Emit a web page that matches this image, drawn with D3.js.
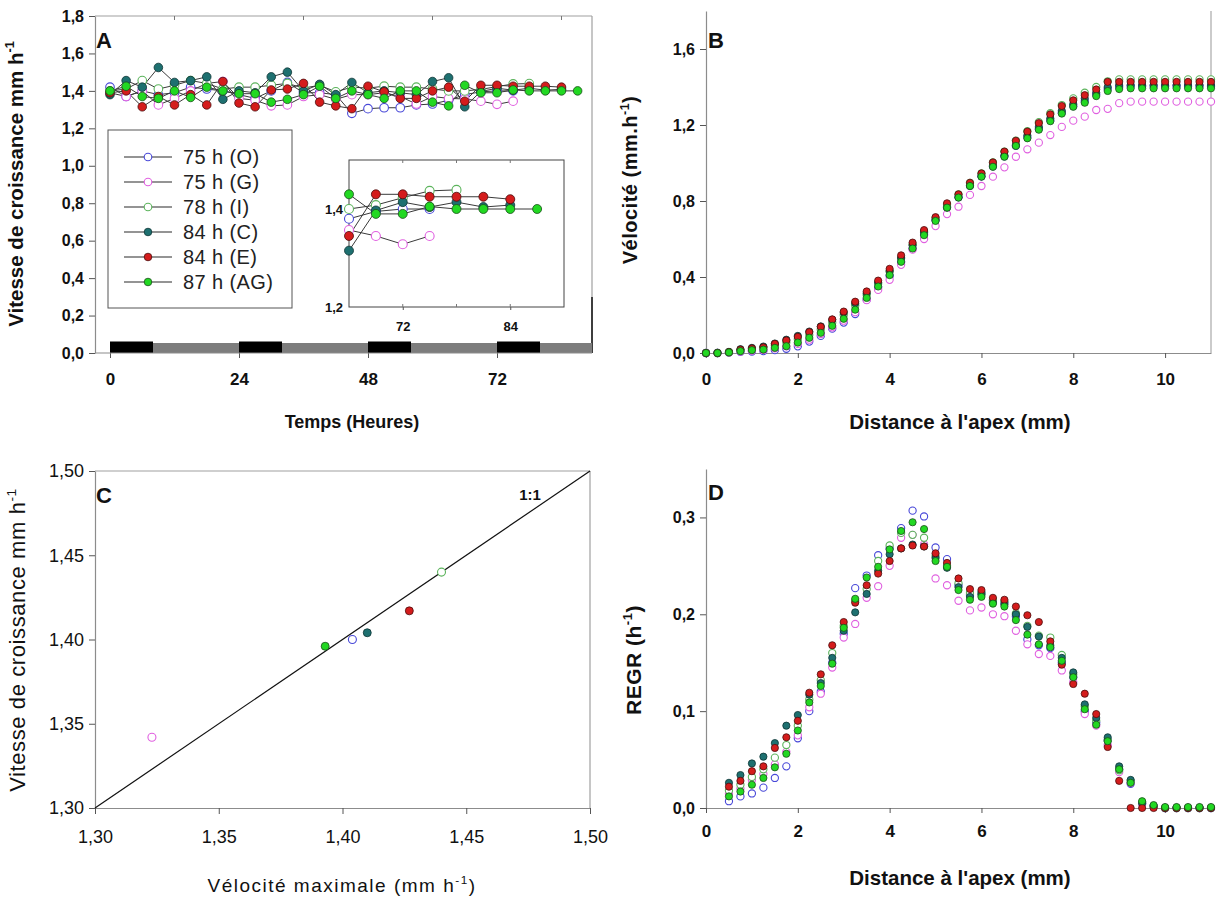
<!DOCTYPE html>
<html><head><meta charset="utf-8">
<script src="https://cdnjs.cloudflare.com/ajax/libs/d3/7.8.5/d3.min.js"></script>
<style>body{margin:0;background:#fff} svg{display:block}</style>
</head><body><svg id="c" width="1217" height="898"></svg>
<script>
// ---------------- DATA ----------------
const seriesNames = ["75 h (O)","75 h (G)","78 h (I)","84 h (C)","84 h (E)","87 h (AG)"];

// Panel A : growth rate (mm h-1) every 3 h
const hoursA = [0,3,6,9,12,15,18,21,24,27,30,33,36,39,42,45,48,51,54,57,60,63,66,69,72,75,78,81,84,87];
const growthO  = [1.42,1.37,1.40,1.38,1.39,1.42,1.41,1.40,1.38,1.36,1.40,1.445,1.39,1.39,1.38,1.28,1.305,1.31,1.31,1.325,1.33,1.35,1.38,1.395,1.40,1.40];
const growthG  = [1.39,1.37,1.40,1.325,1.36,1.40,1.44,1.45,1.36,1.35,1.32,1.325,1.37,1.38,1.355,1.38,1.38,1.39,1.37,1.33,1.37,1.36,1.357,1.345,1.328,1.345];
const growthI  = [1.40,1.41,1.455,1.41,1.43,1.455,1.44,1.41,1.42,1.42,1.43,1.44,1.415,1.43,1.395,1.42,1.415,1.425,1.42,1.42,1.41,1.40,1.40,1.408,1.423,1.437,1.439];
const growthC  = [1.38,1.455,1.42,1.525,1.445,1.455,1.475,1.355,1.40,1.39,1.475,1.50,1.40,1.435,1.38,1.445,1.39,1.40,1.39,1.38,1.45,1.47,1.315,1.397,1.414,1.404,1.414,1.404,1.408];
const growthE  = [1.39,1.40,1.315,1.37,1.325,1.38,1.325,1.45,1.335,1.315,1.405,1.41,1.44,1.34,1.32,1.305,1.425,1.395,1.36,1.36,1.40,1.42,1.345,1.43,1.43,1.425,1.425,1.425,1.42];
const growthAG = [1.40,1.425,1.37,1.36,1.40,1.365,1.42,1.40,1.385,1.385,1.34,1.355,1.38,1.425,1.36,1.40,1.38,1.36,1.40,1.40,1.34,1.32,1.43,1.39,1.39,1.405,1.40,1.40,1.40,1.40];
const nightStarts = [0,24,48,72];
const nightLength = 8;
const ticksAx = [0,24,48,72];
const ticksAxTop = [12,36,60,84];
const ticksAy = [0,0.2,0.4,0.6,0.8,1.0,1.2,1.4,1.6,1.8];
const insetTicksX = [72,84];
const insetMinorX = [78];
const insetTicksY = [1.2,1.4];

// Panel B : velocity (mm h-1) vs distance
const distB = [0,0.25,0.5,0.75,1,1.25,1.5,1.75,2,2.25,2.5,2.75,3,3.25,3.5,3.75,4,4.25,4.5,4.75,5,5.25,5.5,5.75,6,6.25,6.5,6.75,7,7.25,7.5,7.75,8,8.25,8.5,8.75,9,9.25,9.5,9.75,10,10.25,10.5,10.75,11];
const velO  = [0,0,0.002,0.006,0.008,0.01,0.015,0.022,0.035,0.06,0.09,0.128,0.16,0.205,0.28,0.345,0.405,0.478,0.55,0.625,0.7,0.77,0.82,0.88,0.93,0.982,1.035,1.09,1.135,1.18,1.225,1.265,1.30,1.325,1.36,1.39,1.40,1.404,1.404,1.404,1.404,1.404,1.404,1.404,1.404];
const velG  = [0,0,0.002,0.008,0.012,0.016,0.024,0.035,0.048,0.07,0.1,0.135,0.17,0.215,0.278,0.332,0.385,0.464,0.544,0.60,0.668,0.731,0.77,0.832,0.879,0.928,0.977,1.033,1.072,1.107,1.147,1.19,1.223,1.244,1.279,1.285,1.315,1.323,1.323,1.323,1.323,1.323,1.323,1.323,1.323];
const velI  = [0,0,0.004,0.012,0.02,0.028,0.04,0.055,0.072,0.095,0.124,0.16,0.2,0.25,0.305,0.365,0.428,0.5,0.57,0.64,0.71,0.78,0.835,0.895,0.945,1.003,1.06,1.118,1.168,1.215,1.262,1.305,1.34,1.37,1.40,1.43,1.44,1.44,1.44,1.44,1.44,1.44,1.44,1.44,1.44];
const velC  = [0,0,0.006,0.02,0.027,0.034,0.05,0.07,0.09,0.113,0.14,0.175,0.213,0.262,0.315,0.372,0.432,0.5,0.568,0.635,0.7,0.765,0.82,0.88,0.93,0.985,1.04,1.095,1.145,1.19,1.235,1.275,1.31,1.34,1.37,1.40,1.41,1.41,1.41,1.41,1.41,1.41,1.41,1.41,1.41];
const velE  = [0,0,0.005,0.018,0.024,0.03,0.048,0.066,0.085,0.11,0.138,0.177,0.218,0.27,0.324,0.381,0.443,0.514,0.581,0.647,0.715,0.788,0.835,0.896,0.945,1.003,1.06,1.117,1.165,1.21,1.256,1.30,1.33,1.357,1.387,1.427,1.427,1.427,1.427,1.427,1.427,1.427,1.427,1.427,1.427];
const velAG = [0,0,0.003,0.01,0.015,0.018,0.027,0.036,0.055,0.08,0.106,0.143,0.18,0.228,0.29,0.35,0.41,0.48,0.55,0.62,0.695,0.765,0.818,0.879,0.928,0.98,1.033,1.09,1.13,1.175,1.22,1.26,1.296,1.317,1.352,1.379,1.389,1.393,1.393,1.393,1.393,1.393,1.393,1.393,1.393];
const ticksBx = [0,2,4,6,8,10];
const ticksBy = [0,0.4,0.8,1.2,1.6];

// Panel C : max velocity vs mean growth rate
const velMax     = [1.404,1.323,1.440,1.410,1.427,1.393];
const growthMean = [1.400,1.342,1.440,1.404,1.417,1.396];
const ticksC = [1.30,1.35,1.40,1.45,1.50];

// Panel D : REGR (h-1) vs distance
const distD = [0.5,0.75,1,1.25,1.5,1.75,2,2.25,2.5,2.75,3,3.25,3.5,3.75,4,4.25,4.5,4.75,5,5.25,5.5,5.75,6,6.25,6.5,6.75,7,7.25,7.5,7.75,8,8.25,8.5,8.75,9,9.25,9.5,9.75,10,10.25,10.5,10.75,11];
const regrO  = [0.007,0.012,0.015,0.021,0.031,0.043,0.072,0.100,0.120,0.150,0.180,0.227,0.240,0.261,0.268,0.289,0.307,0.301,0.269,0.257,0.230,0.220,0.222,0.214,0.212,0.198,0.174,0.168,0.165,0.150,0.135,0.100,0.088,0.070,0.040,0.025,0.005,0.002,0,0,0,0,0];
const regrG  = [0.015,0.020,0.029,0.035,0.045,0.058,0.075,0.104,0.118,0.145,0.176,0.190,0.217,0.229,0.250,0.279,0.282,0.272,0.237,0.230,0.214,0.204,0.207,0.200,0.198,0.183,0.169,0.159,0.157,0.142,0.130,0.097,0.085,0.065,0.037,0.026,0.004,0.002,0,0,0,0,0];
const regrI  = [0.018,0.024,0.032,0.040,0.052,0.065,0.085,0.112,0.132,0.160,0.188,0.214,0.226,0.255,0.271,0.284,0.282,0.279,0.260,0.250,0.232,0.222,0.222,0.215,0.213,0.201,0.188,0.178,0.176,0.158,0.138,0.105,0.090,0.070,0.039,0.028,0.006,0.002,0,0,0,0,0];
const regrC  = [0.026,0.034,0.046,0.053,0.067,0.085,0.096,0.117,0.129,0.155,0.183,0.202,0.221,0.245,0.262,0.268,0.272,0.270,0.258,0.248,0.228,0.218,0.220,0.212,0.210,0.200,0.187,0.177,0.168,0.155,0.140,0.107,0.093,0.073,0.043,0.029,0.005,0.002,0,0,0,0,0];
const regrE  = [0.022,0.028,0.038,0.043,0.062,0.073,0.090,0.119,0.138,0.168,0.192,0.212,0.230,0.242,0.255,0.268,0.271,0.270,0.263,0.253,0.237,0.226,0.225,0.217,0.215,0.208,0.199,0.192,0.172,0.148,0.128,0.118,0.097,0.063,0.028,0,0,0,0,0,0,0,0];
const regrAG = [0.012,0.017,0.024,0.031,0.042,0.056,0.080,0.109,0.126,0.149,0.186,0.216,0.238,0.249,0.267,0.286,0.295,0.288,0.255,0.249,0.225,0.215,0.218,0.211,0.208,0.194,0.179,0.169,0.166,0.152,0.135,0.102,0.086,0.069,0.040,0.026,0.007,0.003,0.001,0.001,0.001,0.001,0.001];
const ticksDx = [0,2,4,6,8,10];
const ticksDy = [0,0.1,0.2,0.3];

// ---------------- STYLE ----------------
const FONT = "'Liberation Sans', Arial, sans-serif";
const markerStyles = [
  {stroke:"#4848d8", fill:"#ffffff", sw:1.1},
  {stroke:"#e060e0", fill:"#ffffff", sw:1.1},
  {stroke:"#5cb45c", fill:"#ffffff", sw:1.1},
  {stroke:"#0c3434", fill:"#1e7070", sw:0.8},
  {stroke:"#4a0c0c", fill:"#d41c1c", sw:0.8},
  {stroke:"#1c4c1c", fill:"#22d822", sw:0.8}
];
const growthA = [growthO,growthG,growthI,growthC,growthE,growthAG];
const velB = [velO,velG,velI,velC,velE,velAG];
const regrD = [regrO,regrG,regrI,regrC,regrE,regrAG];

const svg = d3.select("#c").style("font-family", FONT);
const comma = (d, p) => d3.format("." + p + "f")(d).replace(".", ",");

function styleAxis(g, size, weight) {
  g.attr("font-family", FONT);
  g.select(".domain").attr("stroke", "#8c8c8c").attr("stroke-width", 1.2);
  g.selectAll(".tick line").attr("stroke", "#555").attr("stroke-width", 1);
  g.selectAll(".tick text").attr("font-size", size).attr("font-weight", weight).attr("fill", "#111");
}
function line(x1,y1,x2,y2,c,w){ svg.append("line").attr("x1",x1).attr("y1",y1).attr("x2",x2).attr("y2",y2).attr("stroke",c).attr("stroke-width",w||1); }
function label(x,y,parts,size,weight,rot,anchor,ls){
  const t = svg.append("text").attr("font-size",size).attr("font-weight",weight||"bold").attr("fill","#111")
    .attr("text-anchor",anchor||"middle");
  if (ls) t.attr("letter-spacing", ls);
  if (rot) t.attr("transform",`translate(${x},${y}) rotate(-90)`); else t.attr("x",x).attr("y",y);
  let prevSup = false;
  parts.forEach(p => {
    if (typeof p === "string") {
      const s = t.append("tspan").text(p);
      if (prevSup) s.attr("dy", size*0.42);
      prevSup = false;
    } else {
      t.append("tspan").attr("font-size", size*0.62).attr("dy", -size*0.42).text(p.sup);
      prevSup = true;
    }
  });
  return t;
}
function dot(g, cx, cy, r, st){
  g.append("circle").attr("cx",cx).attr("cy",cy).attr("r",r).attr("fill",st.fill).attr("stroke",st.stroke).attr("stroke-width",st.sw);
}

// ================= PANEL A =================
const A = {l:95, r:592, t:16, b:353};
const xA = d3.scaleLinear().domain([0,72]).range([110,497]);
const yA = d3.scaleLinear().domain([0,1.8]).range([A.b, A.t]);

line(A.l, A.t, A.r, A.t, "#a0a0a0", 1.2);
line(A.r, A.t, A.r, A.b, "#a0a0a0", 1.2);
line(A.r, 297, A.r, A.b, "#111", 1.5);
ticksAxTop.forEach(h => line(xA(h), A.t, xA(h), A.t+4, "#777", 1));

// day/night bar
const gBar = svg.append("g");
nightStarts.forEach(s => {
  const x0 = xA(s), x1 = xA(s+nightLength), x2 = Math.min(xA(s+24), A.r);
  gBar.append("rect").attr("x",x1).attr("y",A.b-10).attr("width",x2-x1).attr("height",10).attr("fill","#7d7d7d");
  gBar.append("rect").attr("x",x0).attr("y",A.b-11.5).attr("width",x1-x0).attr("height",11.5).attr("fill","#000");
});

const gAy = svg.append("g").attr("transform",`translate(${A.l},0)`)
  .call(d3.axisLeft(yA).tickValues(ticksAy).tickSize(6).tickSizeOuter(0).tickPadding(5).tickFormat(d=>comma(d,1)));
styleAxis(gAy, 16, "bold");
const gAx = svg.append("g").attr("transform",`translate(0,${A.b})`)
  .call(d3.axisBottom(xA).tickValues(ticksAx).tickSize(5).tickSizeOuter(0).tickPadding(15).tickFormat(d3.format("d")));
styleAxis(gAx, 17, "bold");
gAx.select(".domain").remove();
line(A.l, A.b, A.r, A.b, "#8c8c8c", 1.2);

const lineA = d3.line().x((d,i)=>xA(hoursA[i])).y(d=>yA(d));
const gA = svg.append("g");
growthA.forEach((s,k) => {
  gA.append("path").attr("d", lineA(s)).attr("fill","none").attr("stroke","#3a3a3a").attr("stroke-width",1);
});
growthA.forEach((s,k) => {
  s.forEach((v,i) => dot(gA, xA(hoursA[i]), yA(v), 4.3, markerStyles[k]));
});

// legend
svg.append("rect").attr("x",108).attr("y",130).attr("width",184).attr("height",178).attr("fill","#fff").attr("stroke","#555").attr("stroke-width",1);
seriesNames.forEach((n,k) => {
  const y = 157 + k*25;
  line(124, y, 172, y, "#707070", 1.3);
  dot(svg, 148, y, 3.8, markerStyles[k]);
  svg.append("text").attr("x",183).attr("y",y+7).attr("font-size",20).attr("letter-spacing",0.4).attr("fill","#222").text(n);
});

// inset
const I = {l:349, r:564, t:160, b:307};
const xI = d3.scaleLinear().domain([66,90]).range([I.l, I.r]);
const yI = d3.scaleLinear().domain([1.2,1.5]).range([I.b, I.t]);
svg.append("rect").attr("x",I.l).attr("y",I.t).attr("width",I.r-I.l).attr("height",I.b-I.t).attr("fill","#fff").attr("stroke","#444").attr("stroke-width",1);
const gIy = svg.append("g").attr("transform",`translate(${I.l},0)`)
  .call(d3.axisLeft(yI).tickValues(insetTicksY).tickSize(0).tickPadding(6).tickFormat(d=>comma(d,1)));
styleAxis(gIy, 13, "bold"); gIy.select(".domain").remove();
const gIx = svg.append("g").attr("transform",`translate(0,${I.b})`)
  .call(d3.axisBottom(xI).tickValues(insetTicksX).tickSize(3).tickPadding(12).tickFormat(d3.format("d")));
styleAxis(gIx, 13, "bold"); gIx.select(".domain").remove();
insetMinorX.concat(insetTicksX).forEach(h => { line(xI(h), I.t, xI(h), I.t+3, "#777", 1); line(xI(h), I.b, xI(h), I.b-3, "#777", 1); });
const gI = svg.append("g");
growthA.forEach((s,k) => {
  const pts = s.map((v,i)=>[hoursA[i],v]).filter(p=>p[0]>=66);
  gI.append("path").attr("d", d3.line().x(p=>xI(p[0])).y(p=>yI(p[1]))(pts)).attr("fill","none").attr("stroke","#3a3a3a").attr("stroke-width",1);
});
growthA.forEach((s,k) => {
  s.forEach((v,i) => { if (hoursA[i] >= 66) dot(gI, xI(hoursA[i]), yI(v), 4.5, markerStyles[k]); });
});

label(104, 48, ["A"], 22, "bold");
label(352, 428, ["Temps (Heures)"], 18, "bold");
label(23, 184, ["Vitesse de croissance mm h", {sup:"-1"}], 20.5, "bold", true);

// ================= PANEL B =================
const B = {l:706, r:1211, t:11, b:353};
const xB = d3.scaleLinear().domain([0,11]).range([B.l, B.r]);
const yB = d3.scaleLinear().domain([0,1.8]).range([B.b, B.t]);
line(B.r, B.t, B.r, B.b, "#a8a8a8", 1.2);
const gBy = svg.append("g").attr("transform",`translate(${B.l},0)`)
  .call(d3.axisLeft(yB).tickValues(ticksBy).tickSize(6).tickSizeOuter(0).tickPadding(5).tickFormat(d=>comma(d,1)));
styleAxis(gBy, 16, "bold");
const gBx = svg.append("g").attr("transform",`translate(0,${B.b})`)
  .call(d3.axisBottom(xB).tickValues(ticksBx).tickSize(5).tickSizeOuter(0).tickPadding(15).tickFormat(d3.format("d")));
styleAxis(gBx, 17, "bold");
const gB = svg.append("g");
velB.forEach((s,k) => s.forEach((v,i) => dot(gB, xB(distB[i]), yB(v), 3.6, markerStyles[k])));
label(716, 48, ["B"], 22, "bold");
label(960, 429, ["Distance à l'apex (mm)"], 20.5, "bold");
label(637, 180, ["Vélocité (mm.h", {sup:"-1"}, ")"], 20, "bold", true, "middle", "0.5");

// ================= PANEL C =================
const C = {l:95, r:590, t:471, b:808};
const xC = d3.scaleLinear().domain([1.3,1.5]).range([C.l, C.r]);
const yC = d3.scaleLinear().domain([1.3,1.5]).range([C.b, C.t]);
line(C.l, C.t, C.r, C.t, "#a0a0a0", 1.2);
line(C.r, C.t, C.r, C.b, "#a0a0a0", 1.2);
const gCy = svg.append("g").attr("transform",`translate(${C.l},0)`)
  .call(d3.axisLeft(yC).tickValues(ticksC).tickSize(6).tickSizeOuter(0).tickPadding(5).tickFormat(d=>comma(d,2)));
styleAxis(gCy, 18, "normal");
const gCx = svg.append("g").attr("transform",`translate(0,${C.b})`)
  .call(d3.axisBottom(xC).tickValues(ticksC).tickSize(6).tickSizeOuter(0).tickPadding(16).tickFormat(d=>comma(d,2)));
styleAxis(gCx, 18, "normal");
svg.append("line").attr("x1",xC(1.3)).attr("y1",yC(1.3)).attr("x2",xC(1.5)).attr("y2",yC(1.5)).attr("stroke","#111").attr("stroke-width",1.2);
velMax.forEach((v,k) => dot(svg, xC(v), yC(growthMean[k]), 4, markerStyles[k]));
label(104, 503, ["C"], 22, "bold");
label(530, 500, ["1:1"], 15, "bold");
label(342, 892, ["Vélocité maximale (mm h", {sup:"-1"}, ")"], 19, "normal", false, "middle", "1.5");
label(25, 640, ["Vitesse de croissance mm h", {sup:"-1"}], 22, "normal", true, "middle", "0.6");

// ================= PANEL D =================
const D = {l:706, r:1211, t:469, b:808};
const xD = d3.scaleLinear().domain([0,11]).range([D.l, D.r]);
const yD = d3.scaleLinear().domain([0,0.35]).range([D.b, D.t]);
const gDy = svg.append("g").attr("transform",`translate(${D.l},0)`)
  .call(d3.axisLeft(yD).tickValues(ticksDy).tickSize(6).tickSizeOuter(0).tickPadding(5).tickFormat(d=>comma(d,1)));
styleAxis(gDy, 16, "bold");
const gDx = svg.append("g").attr("transform",`translate(0,${D.b})`)
  .call(d3.axisBottom(xD).tickValues(ticksDx).tickSize(5).tickSizeOuter(0).tickPadding(12).tickFormat(d3.format("d")));
styleAxis(gDx, 17, "bold");
const gD = svg.append("g");
regrD.forEach((s,k) => s.forEach((v,i) => dot(gD, xD(distD[i]), yD(v), 3.6, markerStyles[k])));
label(716, 500, ["D"], 22, "bold");
label(960, 885, ["Distance à l'apex (mm)"], 20.5, "bold");
label(641, 660, ["REGR (h", {sup:"-1"}, ")"], 21, "bold", true, "middle", "0.5");
</script>
</body></html>
